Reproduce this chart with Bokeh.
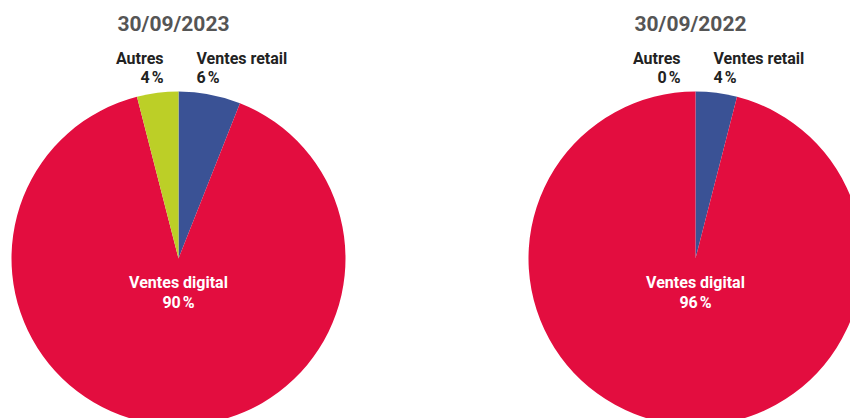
import math
from bokeh.plotting import figure
from bokeh.models import Range1d, ColumnDataSource
from bokeh.core.properties import value
from bokeh.embed import file_html
from bokeh.resources import INLINE

# ---- data ----
dates = ["30/09/2023", "30/09/2022"]
categories = ["Ventes retail", "Ventes digital", "Autres"]
values_2023 = [6, 90, 4]
values_2022 = [4, 96, 0]
colors = ["#3A5295", "#E30D3F", "#BCCF27"]

W, H = 850, 418
p = figure(width=W, height=H, output_backend="svg", toolbar_location=None,
           x_range=Range1d(0, W), y_range=Range1d(H, 0),
           min_border=0, min_border_left=0, min_border_right=0,
           min_border_top=0, min_border_bottom=0)
p.xaxis.visible = False
p.yaxis.visible = False
p.grid.visible = False
p.outline_line_color = None
p.background_fill_color = "white"
p.border_fill_color = "white"

FONT = value("Roboto")
centers = [(178, 258), (695, 258)]
R = 167
PCT = "\u202f%"
LBL = "16px"

for (cx, cy), date, vals in zip(centers, dates, [values_2023, values_2022]):
    total = float(sum(vals))
    cum = 0.0
    xs, ys, starts, ends, cols = [], [], [], [], []
    for v, c in zip(vals, colors):
        c0 = cum / total
        cum += v
        c1 = cum / total
        if v <= 0:
            continue
        # clockwise from 12 o'clock on screen
        xs.append(cx); ys.append(cy)
        starts.append(math.pi / 2 - 2 * math.pi * c1)
        ends.append(math.pi / 2 - 2 * math.pi * c0)
        cols.append(c)
    src = ColumnDataSource(dict(x=xs, y=ys, s=starts, e=ends, c=cols))
    p.wedge(x="x", y="y", radius=R, start_angle="s", end_angle="e",
            direction="anticlock", fill_color="c", line_color=None, source=src)

    # title
    p.text(x=[cx - 5], y=[23], text=[date], text_font=FONT, text_font_size="21px",
           text_font_style="bold", text_color="#555555",
           text_align="center", text_baseline="middle")

    retail, digital, autres = vals
    kw = dict(text_font=FONT, text_font_size=LBL, text_font_style="bold",
              text_baseline="middle")
    p.text(x=[cx - 15], y=[58], text=["Autres"], text_color="#222222", text_align="right", **kw)
    p.text(x=[cx - 15], y=[77], text=[f"{autres}{PCT}"], text_color="#222222", text_align="right", **kw)
    p.text(x=[cx + 18], y=[58], text=["Ventes retail"], text_color="#222222", text_align="left", **kw)
    p.text(x=[cx + 18], y=[77], text=[f"{retail}{PCT}"], text_color="#222222", text_align="left", **kw)

    # inside label
    p.text(x=[cx], y=[282], text=["Ventes digital"], text_color="white", text_align="center", **kw)
    p.text(x=[cx], y=[302], text=[f"{digital}{PCT}"], text_color="white", text_align="center", **kw)

open("out.html", "w").write(file_html(p, INLINE))
